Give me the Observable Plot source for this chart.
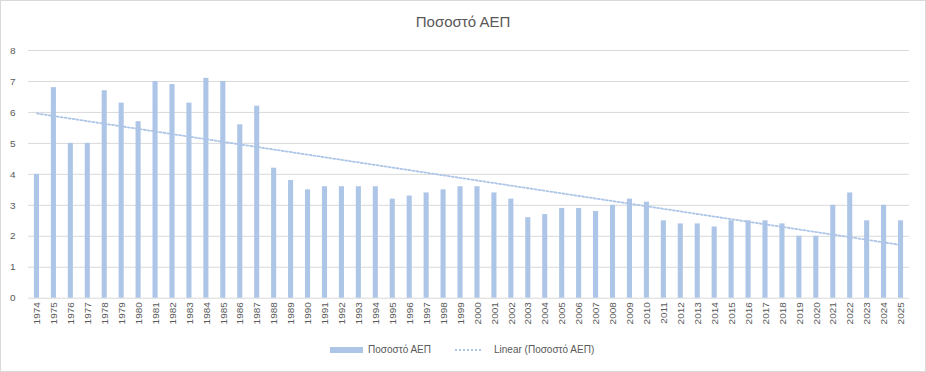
<!DOCTYPE html>
<html><head><meta charset="utf-8">
<script src="https://cdn.jsdelivr.net/npm/d3@7"></script>
<script src="https://cdn.jsdelivr.net/npm/@observablehq/plot@0.6"></script>
<style>
body{margin:0;background:#fff;font-family:"Liberation Sans",Arial,sans-serif;}
#wrap{position:relative;width:926px;height:372px;box-sizing:border-box;border:1px solid #d9d9d9;overflow:hidden;background:#fff}
#title{position:absolute;left:0;top:12px;width:100%;text-align:center;font-size:15px;color:#595959;line-height:18px}
#chart{position:absolute;left:-1px;top:39px}
.lg{position:absolute;font-size:10px;color:#595959;line-height:12px}
</style></head>
<body>
<div id="wrap">
  <div id="title">Ποσοστό ΑΕΠ</div>
  <div id="chart"></div>
  <div class="lg" style="left:329px;top:346px;width:33px;height:6px;background:#adc5e7"></div>
  <div class="lg" style="left:367px;top:343px">Ποσοστό ΑΕΠ</div>
  <svg class="lg" style="left:454px;top:344px" width="28" height="10"><line x1="0" x2="28" y1="5" y2="5" stroke="#adc5e7" stroke-width="1.8" stroke-dasharray="2,2"/></svg>
  <div class="lg" style="left:493px;top:343px">Linear (Ποσοστό ΑΕΠ)</div>
</div>
<script>
const years = [1974,1975,1976,1977,1978,1979,1980,1981,1982,1983,1984,1985,1986,1987,1988,1989,1990,1991,1992,1993,1994,1995,1996,1997,1998,1999,2000,2001,2002,2003,2004,2005,2006,2007,2008,2009,2010,2011,2012,2013,2014,2015,2016,2017,2018,2019,2020,2021,2022,2023,2024,2025];
const values = [4.0,6.8,5.0,5.0,6.7,6.3,5.7,7.0,6.9,6.3,7.1,7.0,5.6,6.2,4.2,3.8,3.5,3.6,3.6,3.6,3.6,3.2,3.3,3.4,3.5,3.6,3.6,3.4,3.2,2.6,2.7,2.9,2.9,2.8,3.0,3.2,3.1,2.5,2.4,2.4,2.3,2.5,2.5,2.5,2.4,2.0,2.0,3.0,3.4,2.5,3.0,2.5];
const yTicks = [0,1,2,3,4,5,6,7,8];
const seriesName = "Ποσοστό ΑΕΠ";

const data = years.map((y, i) => ({year: String(y), value: values[i]}));

// Linear trendline (least squares over the category index), as Excel does
const n = values.length;
const xs = d3.range(1, n + 1);
const mx = d3.mean(xs), my = d3.mean(values);
const slope = d3.sum(xs, (x, i) => (x - mx) * (values[i] - my)) / d3.sum(xs, x => (x - mx) ** 2);
const intercept = my - slope * mx;
const trend = years.map((y, i) => ({year: String(y), value: intercept + slope * xs[i]}));

const chart = Plot.plot({
  width: 926, height: 300,
  marginLeft: 28, marginRight: 16, marginTop: 10, marginBottom: 42,
  style: {fontFamily: '"Liberation Sans", Arial, sans-serif', fontSize: "10px", color: "#595959", background: "transparent"},
  x: {domain: years.map(String), paddingInner: 0.7, paddingOuter: 0.35, tickRotate: -90, tickSize: 0, tickPadding: 4, label: null},
  y: {domain: [0, 8], ticks: yTicks, tickSize: 0, tickPadding: 13, label: null},
  marks: [
    Plot.ruleY(yTicks, {stroke: "#d9d9d9", strokeWidth: 1}),
    Plot.barY(data, {x: "year", y: "value", fill: "#adc5e7"}),
    Plot.line(trend, {x: "year", y: "value", stroke: "#adc5e7", strokeWidth: 1.8, strokeDasharray: "2,2"})
  ]
});
document.getElementById("chart").appendChild(chart);
</script>
</body></html>
